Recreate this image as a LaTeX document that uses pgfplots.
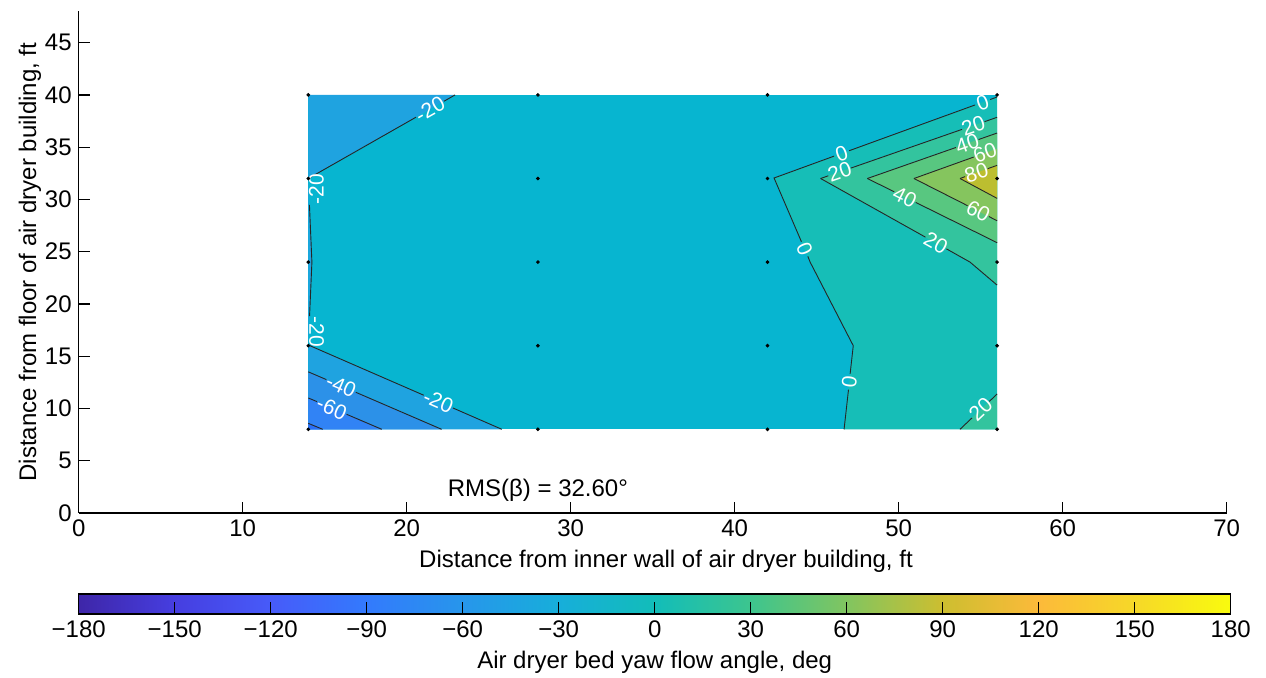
\documentclass[border=0pt]{standalone}
\usepackage{fontspec}
\setmainfont{Liberation Sans}
\usepackage{pgfplots}
\pgfplotsset{compat=1.18}

% filled bands (colour of the lower level of each band)
\definecolor{bm80}{RGB}{49,131,245}
\definecolor{bm60}{RGB}{44,145,232}
\definecolor{bm40}{RGB}{31,163,224}
\definecolor{bm20}{RGB}{7,181,208}
\definecolor{bp0}{RGB}{22,190,183}
\definecolor{bp20}{RGB}{51,196,158}
\definecolor{bp40}{RGB}{88,199,128}
\definecolor{bp60}{RGB}{133,197,94}
\definecolor{bp80}{RGB}{188,190,48}

\pgfplotsset{
  colormap={parula}{
    rgb255=(62,38,168) rgb255=(70,62,224) rgb255=(71,91,249)
    rgb255=(51,122,253) rgb255=(39,150,235) rgb255=(23,174,218)
    rgb255=(18,189,185) rgb255=(61,197,142) rgb255=(129,197,96)
    rgb255=(205,190,48) rgb255=(252,186,58) rgb255=(246,216,40)
    rgb255=(249,251,14)},
}
\tikzset{
  cline/.style={draw=black!85, line width=0.45pt},
  clab/.style={text=white, inner sep=0pt, font=\fontsize{10.5}{11}\selectfont},
}

\begin{document}
\begin{tikzpicture}
\useasboundingbox (-39.35pt,-82.05pt) rectangle (593.65pt,256.45pt);
\begin{axis}[
  name=main,
  at={(0,0)}, anchor=south west,
  scale only axis, width=574pt, height=250.8pt,
  xmin=0, xmax=70, ymin=0, ymax=48,
  axis x line*=bottom, axis y line*=left,
  xtick={0,10,...,70}, ytick={0,5,...,45},
  tick align=inside, major tick length=5.5pt,
  axis line style={line width=0.6pt},
  every tick/.style={black, line width=0.6pt},
  /pgf/number format/assume math mode=true,
  tick label style={font=\fontsize{12}{14}\selectfont},
  label style={font=\fontsize{12}{14}\selectfont},
  xlabel={Distance from inner wall of air dryer building, ft},
  ylabel={Distance from floor of air dryer building, ft},
  xlabel style={at={(axis description cs:0.5116,0)}, anchor=center, yshift=-24pt},
  ylabel style={at={(axis description cs:0,0.5)}, anchor=center, yshift=24.4pt},
  colormap name=parula,
  point meta min=-180, point meta max=180,
  colorbar horizontal,
  colorbar style={
    at={(parent axis.south west)}, anchor=north west, yshift=-32pt,
    scale only axis, width=576pt, height=10pt,
    axis on top,
    axis line style={line width=0.6pt},
    xtick={-180,-150,...,180},
    xticklabels={−180,−150,−120,−90,−60,−30,0,30,60,90,120,150,180},
    xmajorticks=true, ymajorticks=false,
    xtick pos=left, xticklabel pos=left,
    tick align=inside, major tick length=5.5pt,
    xtick style={draw=black, line width=0.6pt},
    tick label style={font=\fontsize{12}{14}\selectfont},
    xlabel={Air dryer bed yaw flow angle, deg},
    xlabel style={font=\fontsize{12}{14}\selectfont, at={(axis description cs:0.5,0)}, anchor=center, yshift=-24pt},
  },
]
% base band -20..0 over the measured rectangle
\addplot[draw=none, fill=bm20] coordinates {(14,8) (56,8) (56,40) (14,40)} -- cycle;
% regions below -20, -40, -60, -80
\addplot[draw=none, fill=bm40] coordinates {(14,40) (22.95,40) (14,32) (14.22,24) (14,16.07) (25.8,8) (14,8)} -- cycle;
\addplot[draw=none, fill=bm60] coordinates {(14,13.5) (22.13,8) (14,8)} -- cycle;
\addplot[draw=none, fill=bm80] coordinates {(14,11) (18.48,8) (14,8)} -- cycle;
\addplot[draw=none, fill=bm80!85!blue] coordinates {(14,8.57) (14.88,8) (14,8)} -- cycle;
% regions above 0, 20, 40, 60, 80
\addplot[draw=none, fill=bp0] coordinates {(56,39.8) (42.4,32.05) (44.6,24) (47.23,16) (46.67,8) (56,8)} -- cycle;
\addplot[draw=none, fill=bp20] coordinates {(56,37.86) (45.24,32) (54.35,24) (56,21.8)} -- cycle;
\addplot[draw=none, fill=bp20] coordinates {(53.74,8) (56,11.38) (56,8)} -- cycle;
\addplot[draw=none, fill=bp40] coordinates {(56,36.35) (48.09,32) (56,25.86)} -- cycle;
\addplot[draw=none, fill=bp60] coordinates {(56,34.85) (50.93,32) (56,27.96)} -- cycle;
\addplot[draw=none, fill=bp80] coordinates {(56,33.26) (53.74,32) (56,30.1)} -- cycle;

% contour lines, broken where the labels sit
\addplot[cline] coordinates {(14,32) (20.57,37.87)};
\addplot[cline] coordinates {(22.27,39.39) (22.95,40)};
\addplot[cline] coordinates {(14.07,29.47) (14.22,24) (14.077,18.83)};
\addplot[cline] coordinates {(14,16.07) (21.04,11.26)};
\addplot[cline] coordinates {(22.82,10.04) (25.8,8)};
\addplot[cline] coordinates {(14,13.5) (15.10,12.76)};
\addplot[cline] coordinates {(16.90,11.54) (22.13,8)};
\addplot[cline] coordinates {(14,11) (14.53,10.65)};
\addplot[cline] coordinates {(16.33,9.44) (18.48,8)};
\addplot[cline] coordinates {(14,8.57) (14.88,8)};
% 0
\addplot[cline] coordinates {(56,39.8) (55.58,39.56)};
\addplot[cline] coordinates {(54.66,39.04) (46.98,34.66)};
\addplot[cline] coordinates {(46.06,34.14) (42.4,32.05) (44.07,25.95)};
\addplot[cline] coordinates {(44.46,24.55) (44.6,24) (47.23,16) (47.04,13.32)};
\addplot[cline] coordinates {(46.94,11.80) (46.67,8)};
% 20
\addplot[cline] coordinates {(45.24,32) (45.71,32.26)};
\addplot[cline] coordinates {(47.09,33.0) (53.86,36.70)};
\addplot[cline] coordinates {(55.24,37.44) (56,37.86)};
\addplot[cline] coordinates {(45.24,32) (51.63,26.39)};
\addplot[cline] coordinates {(52.91,25.27) (54.35,24) (56,21.8)};
\addplot[cline] coordinates {(53.74,8) (54.47,9.09)};
\addplot[cline] coordinates {(55.53,10.67) (56,11.38)};
% 40
\addplot[cline] coordinates {(48.09,32) (53.49,34.97)};
\addplot[cline] coordinates {(54.87,35.73) (56,36.35)};
\addplot[cline] coordinates {(48.09,32) (49.73,30.73)};
\addplot[cline] coordinates {(51.04,29.71) (56,25.86)};
% 60
\addplot[cline] coordinates {(50.93,32) (54.57,34.05)};
\addplot[cline] coordinates {(50.93,32) (54.20,29.40)};
\addplot[cline] coordinates {(55.50,28.36) (56,27.96)};
% 80
\addplot[cline] coordinates {(53.74,32) (54.05,32.18)};
\addplot[cline] coordinates {(55.43,32.94) (56,33.26)};
\addplot[cline] coordinates {(53.74,32) (56,30.1)};

% contour labels
\node[clab, rotate=29.6] at (axis cs:21.42,38.63) {-20};
\node[clab, rotate=90] at (axis cs:14.5,31.0) {-20};
\node[clab, rotate=-90] at (axis cs:14.5,17.3) {-20};
\node[clab, rotate=-23.5] at (axis cs:21.93,10.65) {-20};
\node[clab, rotate=-23.4] at (axis cs:16.0,12.15) {-40};
\node[clab, rotate=-23.3] at (axis cs:15.43,10.04) {-60};
\node[clab, rotate=19.9] at (axis cs:55.12,39.30) {0};
\node[clab, rotate=19.9] at (axis cs:46.52,34.40) {0};
\node[clab, rotate=-66.8] at (axis cs:44.26,25.25) {0};
\node[clab, rotate=83.7] at (axis cs:46.99,12.56) {0};
\node[clab, rotate=19.0] at (axis cs:54.55,37.07) {20};
\node[clab, rotate=19.0] at (axis cs:46.4,32.63) {20};
\node[clab, rotate=-29.0] at (axis cs:52.27,25.83) {20};
\node[clab, rotate=43.4] at (axis cs:55.0,9.88) {20};
\node[clab, rotate=19.1] at (axis cs:54.18,35.35) {40};
\node[clab, rotate=-26.5] at (axis cs:50.38,30.22) {40};
\node[clab, rotate=19.4] at (axis cs:55.26,34.43) {60};
\node[clab, rotate=-27.1] at (axis cs:54.85,28.88) {60};
\node[clab, rotate=18.8] at (axis cs:54.74,32.56) {80};

% measurement points
\addplot[only marks, mark=*, mark size=0.7pt, black] coordinates {
  (14,8) (28,8) (42,8) (56,8)
  (14,16) (28,16) (42,16) (56,16)
  (14,24) (28,24) (42,24) (56,24)
  (14,32) (28,32) (42,32) (56,32)
  (14,40) (28,40) (42,40) (56,40)};

\node[font=\fontsize{12}{14}\selectfont] at (axis cs:28,2.2) {RMS(β) = 32.60°};
\end{axis}
% inward tick marks along the lower edge of the colour bar (every 30 deg)
\foreach \k in {1,...,11} {
  \draw[black, line width=0.6pt] ([shift={(\k*48pt,-50pt)}]main.south west) -- ++(0,5.5pt);
}
\end{tikzpicture}
\end{document}
